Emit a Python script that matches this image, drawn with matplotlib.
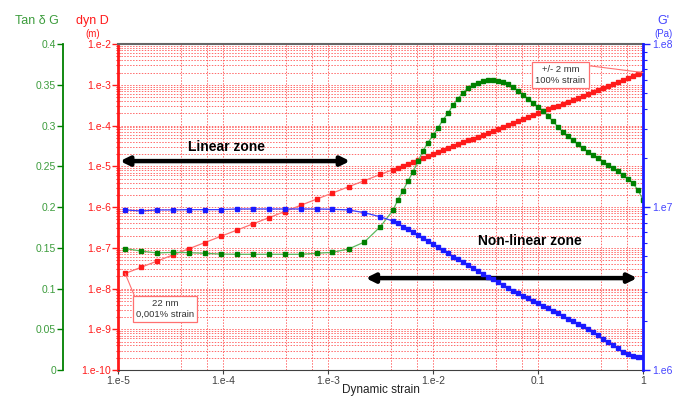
import matplotlib
matplotlib.use("Agg")
import matplotlib.pyplot as plt
from matplotlib.ticker import FixedLocator, NullFormatter, LogLocator

plt.rcParams['font.family'] = ['Liberation Sans', 'DejaVu Sans']

# strain sweep: coarse steps in the linear zone, then 21 points per decade
strain = [1.17e-5, 1.66e-5, 2.35e-5, 3.33e-5, 4.73e-5, 6.71e-5, 9.53e-5, 1.35e-4, 1.92e-4,
          2.72e-4, 3.86e-4, 5.48e-4, 7.78e-4, 1.10e-3, 1.57e-3, 2.22e-3, 3.16e-3,
          4.16e-3, 4.64e-3, 5.18e-3, 5.78e-3, 6.45e-3, 7.20e-3, 8.03e-3, 8.96e-3,
          1.00e-2, 1.116e-2, 1.245e-2, 1.39e-2, 1.55e-2, 1.73e-2, 1.93e-2, 2.15e-2, 2.40e-2,
          2.68e-2, 2.99e-2, 3.34e-2, 3.73e-2, 4.16e-2, 4.64e-2, 5.18e-2, 5.78e-2, 6.45e-2,
          7.20e-2, 8.03e-2, 8.96e-2, 0.100, 0.1116, 0.1245, 0.139, 0.155, 0.173, 0.193,
          0.215, 0.240, 0.268, 0.299, 0.334, 0.373, 0.416, 0.464, 0.518, 0.578, 0.645,
          0.720, 0.803, 0.896, 1.0]

# dynamic displacement (m)
dyn_d = [2.34e-8, 3.32e-8, 4.70e-8, 6.66e-8, 9.46e-8, 1.34e-7, 1.91e-7, 2.70e-7, 3.84e-7,
         5.44e-7, 7.72e-7, 1.10e-6, 1.56e-6, 2.20e-6, 3.14e-6, 4.44e-6, 6.32e-6,
         8.32e-6, 9.28e-6, 1.036e-5, 1.156e-5, 1.29e-5, 1.44e-5, 1.606e-5, 1.792e-5,
         2.0e-5, 2.232e-5, 2.49e-5, 2.78e-5, 3.10e-5, 3.46e-5, 3.86e-5, 4.30e-5, 4.80e-5,
         5.36e-5, 5.98e-5, 6.68e-5, 7.46e-5, 8.32e-5, 9.28e-5, 1.036e-4, 1.156e-4, 1.29e-4,
         1.44e-4, 1.606e-4, 1.792e-4, 2.0e-4, 2.232e-4, 2.49e-4, 2.78e-4, 3.10e-4, 3.46e-4,
         3.86e-4, 4.30e-4, 4.80e-4, 5.36e-4, 5.98e-4, 6.68e-4, 7.46e-4, 8.32e-4, 9.28e-4,
         1.036e-3, 1.156e-3, 1.29e-3, 1.44e-3, 1.606e-3, 1.792e-3, 2.0e-3]

# tan delta
tan_d = [0.149, 0.146, 0.1436, 0.1444, 0.144, 0.1432, 0.1423, 0.142, 0.142,
         0.142, 0.142, 0.142, 0.1432, 0.1444, 0.1485, 0.157, 0.176,
         0.196, 0.209, 0.220, 0.232, 0.243, 0.256, 0.269, 0.279,
         0.288, 0.297, 0.307, 0.315, 0.325, 0.333, 0.340, 0.346, 0.350,
         0.3525, 0.3546, 0.3555, 0.3555, 0.3546, 0.353, 0.3505, 0.347, 0.343,
         0.338, 0.333, 0.328, 0.323, 0.318, 0.312, 0.305, 0.2985, 0.292,
         0.287, 0.282, 0.277, 0.272, 0.268, 0.264, 0.260, 0.2556, 0.2515,
         0.2475, 0.244, 0.239, 0.235, 0.229, 0.221, 0.209]

# storage modulus G' (Pa)
g_prime = [9.6e6, 9.46e6, 9.6e6, 9.6e6, 9.64e6, 9.64e6, 9.64e6, 9.73e6, 9.73e6,
           9.73e6, 9.73e6, 9.73e6, 9.73e6, 9.69e6, 9.6e6, 9.23e6, 8.71e6,
           8.20e6, 7.94e6, 7.57e6, 7.29e6, 7.06e6, 6.73e6, 6.43e6, 6.18e6,
           5.93e6, 5.66e6, 5.45e6, 5.20e6, 4.95e6, 4.78e6, 4.60e6, 4.41e6, 4.21e6,
           4.05e6, 3.88e6, 3.73e6, 3.60e6, 3.48e6, 3.32e6, 3.17e6, 3.07e6, 2.95e6,
           2.84e6, 2.75e6, 2.65e6, 2.56e6, 2.47e6, 2.39e6, 2.31e6, 2.23e6, 2.14e6,
           2.07e6, 2.00e6, 1.91e6, 1.85e6, 1.78e6, 1.70e6, 1.64e6, 1.56e6, 1.49e6,
           1.42e6, 1.36e6, 1.29e6, 1.25e6, 1.22e6, 1.21e6, 1.21e6]

x_ticks = [1e-5, 1e-4, 1e-3, 1e-2, 0.1, 1]
x_labels = ['1.e-5', '1.e-4', '1.e-3', '1.e-2', '0.1', '1']
d_ticks = [1e-10, 1e-9, 1e-8, 1e-7, 1e-6, 1e-5, 1e-4, 1e-3, 1e-2]
d_labels = ['1.e-10', '1.e-9', '1.e-8', '1.e-7', '1.e-6', '1.e-5', '1.e-4', '1.e-3', '1.e-2']
tan_ticks = [0, 0.05, 0.1, 0.15, 0.2, 0.25, 0.3, 0.35, 0.4]
tan_labels = ['0', '0.05', '0.1', '0.15', '0.2', '0.25', '0.3', '0.35', '0.4']
g_ticks = [1e6, 1e7, 1e8]
g_labels = ['1.e6', '1.e7', '1.e8']

RED = '#ff1a1a'
GREEN = '#008000'
GREEN_TXT = '#3c9c3c'
BLUE = '#1a1aff'
BLUE_TXT = '#4646ff'
GRAY = '#404040'

fig = plt.figure(figsize=(6.88, 3.97), dpi=100)
ax = fig.add_axes([0.1715, 0.068, 0.763, 0.821])

# --- red axis: dyn D
ax.set_xscale('log')
ax.set_yscale('log')
ax.set_xlim(1e-5, 1)
ax.set_ylim(1e-10, 1e-2)
ax.set_xticks(x_ticks)
ax.set_xticklabels(x_labels)
ax.xaxis.set_minor_locator(FixedLocator([m * 10.0 ** e for e in range(-5, 0) for m in (4, 7)]))
ax.xaxis.set_minor_formatter(NullFormatter())
ax.tick_params(axis='x', which='major', length=3, colors=GRAY, labelsize=7.5, pad=1)
ax.tick_params(axis='x', which='minor', length=0)
ax.set_yticks(d_ticks)
ax.set_yticklabels(d_labels)
ax.yaxis.set_minor_locator(LogLocator(base=10, subs=range(2, 10), numticks=50))
ax.yaxis.set_minor_formatter(NullFormatter())
ax.tick_params(axis='y', which='major', length=4, width=1, colors=RED, labelsize=7.5, pad=1)
ax.tick_params(axis='y', which='minor', length=3, width=0.8, direction='inout', colors=RED)
ax.grid(True, which='both', axis='both', color='#ff5050', linestyle=(0, (1.5, 1.5)), lw=0.7, alpha=0.85)
ax.set_axisbelow(True)
ax.spines['left'].set_color(RED)
ax.spines['left'].set_linewidth(2)
ax.spines['bottom'].set_color(GRAY)
ax.spines['top'].set_color('#666666')
ax.spines['top'].set_linewidth(1.5)
ax.spines['right'].set_visible(False)
ax.set_xlabel('Dynamic strain', fontsize=8.5, color='#222222', labelpad=-1)

ax.plot(strain, dyn_d, color='#ff7070', lw=0.9, zorder=3)
ax.plot(strain, dyn_d, ls='none', marker='s', ms=3.3, color=RED, zorder=4)

# --- green axis: tan delta
ax_g = ax.twinx()
ax_g.set_ylim(0, 0.4)
ax_g.spines['left'].set_position(('axes', -0.105))
ax_g.spines['left'].set_visible(True)
ax_g.spines['left'].set_color(GREEN)
ax_g.spines['left'].set_linewidth(1.3)
for s in ['right', 'top', 'bottom']:
    ax_g.spines[s].set_visible(False)
ax_g.yaxis.set_ticks_position('left')
ax_g.set_yticks(tan_ticks)
ax_g.set_yticklabels(tan_labels)
ax_g.tick_params(axis='y', length=4, width=1, color=GREEN, labelcolor=GREEN_TXT, labelsize=7.5, pad=1)
ax_g.plot(strain, tan_d, color='#5cb85c', lw=0.9, zorder=3)
ax_g.plot(strain, tan_d, ls='none', marker='s', ms=3.3, color=GREEN, zorder=4)

# --- blue axis: G'
ax_b = ax.twinx()
ax_b.set_yscale('log')
ax_b.set_ylim(1e6, 1e8)
ax_b.set_yticks(g_ticks)
ax_b.set_yticklabels(g_labels)
ax_b.yaxis.set_minor_locator(LogLocator(base=10, subs=range(2, 10), numticks=20))
ax_b.yaxis.set_minor_formatter(NullFormatter())
ax_b.tick_params(axis='y', which='major', length=5, width=1, color=BLUE, labelcolor=BLUE_TXT, labelsize=7.5, pad=2)
ax_b.tick_params(axis='y', which='minor', length=3, width=0.8, color=BLUE)
for s in ['left', 'top', 'bottom']:
    ax_b.spines[s].set_visible(False)
ax_b.spines['right'].set_color(BLUE)
ax_b.spines['right'].set_linewidth(2)
ax_b.plot(strain, g_prime, color='#3c3cff', lw=0.9, zorder=3)
ax_b.plot(strain, g_prime, ls='none', marker='s', ms=3.3, color=BLUE, zorder=4)

# axis titles
fig.text(0.054, 0.947, 'Tan δ G', color=GREEN_TXT, fontsize=9, ha='center', va='center')
fig.text(0.134, 0.947, 'dyn D', color=RED, fontsize=9, ha='center', va='center')
fig.text(0.134, 0.915, '(m)', color=RED, fontsize=7, ha='center', va='center')
fig.text(0.964, 0.947, "G'", color=BLUE_TXT, fontsize=9, ha='center', va='center')
fig.text(0.964, 0.915, '(Pa)', color=BLUE_TXT, fontsize=7, ha='center', va='center')

# zone arrows
arrow = dict(arrowstyle='<|-|>', color='black', lw=3.2, mutation_scale=13, shrinkA=0, shrinkB=0)
ax_b.annotate('', xy=(0.442, 0.641), xytext=(0.004, 0.641), xycoords='axes fraction', arrowprops=arrow)
ax_b.annotate('', xy=(0.989, 0.282), xytext=(0.472, 0.282), xycoords='axes fraction', arrowprops=arrow)
ax_b.text(0.206, 0.684, 'Linear zone', transform=ax_b.transAxes, fontsize=10, fontweight='bold',
          ha='center', va='center')
ax_b.text(0.785, 0.397, 'Non-linear zone', transform=ax_b.transAxes, fontsize=10, fontweight='bold',
          ha='center', va='center')

# callouts on the displacement curve
box = dict(boxstyle='square,pad=0.35', fc='white', ec='#ff7070', lw=0.9)
ax_b.annotate('22 nm\n0,001% strain', xy=(strain[0], dyn_d[0]), xycoords=ax.transData,
              xytext=(0.0895, 0.187), textcoords='axes fraction', fontsize=6.8, color='#333333',
              ha='center', va='center', bbox=box,
              arrowprops=dict(arrowstyle='-', color='#ff7070', lw=0.8, shrinkA=0, shrinkB=0, relpos=(0, 1)))
ax_b.annotate('+/- 2 mm\n100% strain', xy=(strain[-1], dyn_d[-1]), xycoords=ax.transData,
              xytext=(0.843, 0.905), textcoords='axes fraction', fontsize=6.8, color='#333333',
              ha='center', va='center', bbox=box,
              arrowprops=dict(arrowstyle='-', color='#ff7070', lw=0.8, shrinkA=0, shrinkB=0, relpos=(1, 1)))

fig.savefig('out.png', dpi=100)
